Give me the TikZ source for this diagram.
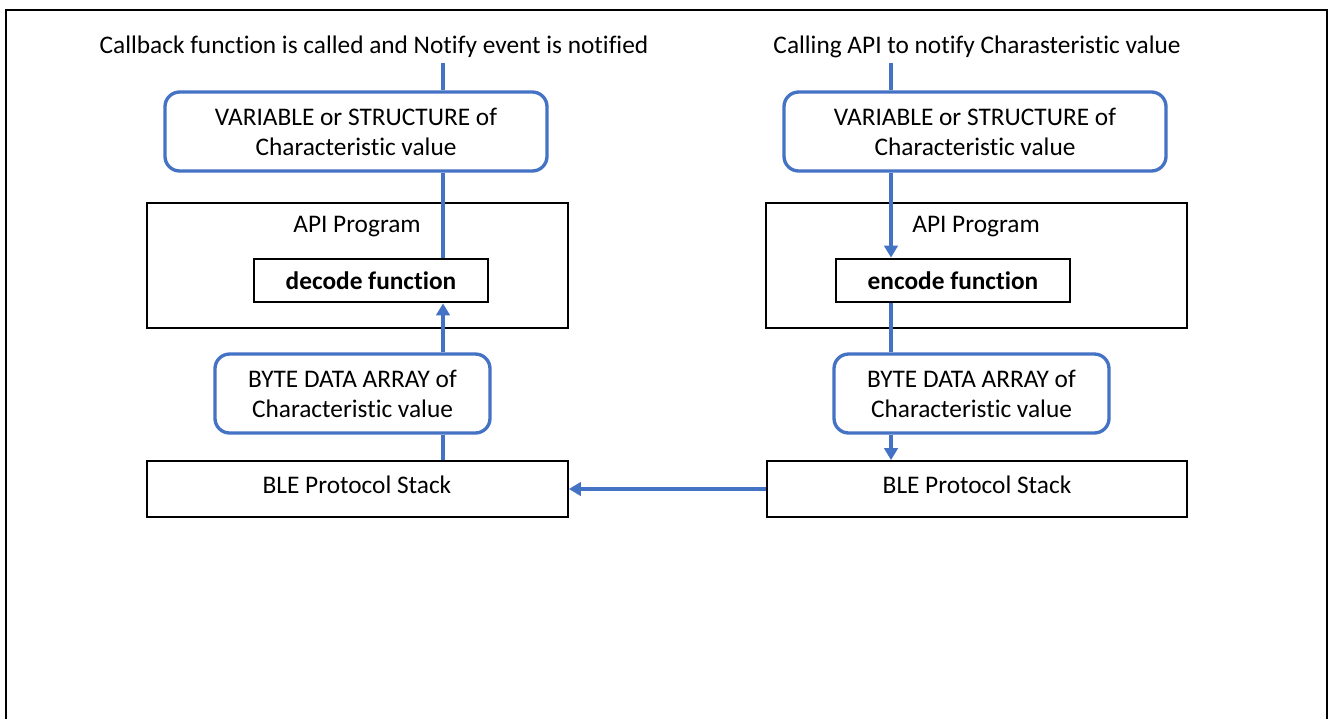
\documentclass[tikz,border=0pt]{standalone}
\usepackage{fontspec}
\setmainfont{Carlito}[Ligatures=NoCommon]
\usetikzlibrary{arrows.meta}
\definecolor{obl}{HTML}{4472C4}
\begin{document}
\begin{tikzpicture}[x=0.75pt,y=-0.75pt,
  every node/.style={font=\fontsize{19}{22.5}\selectfont},
  rbox/.style={draw=obl,line width=2.5pt,rounded corners=11pt,align=center,inner sep=0pt},
  sbox/.style={draw=black,line width=1.3pt,inner sep=0pt},
  fbox/.style={draw=black,line width=2pt,inner sep=0pt,font=\fontsize{19}{22.5}\selectfont\bfseries},
  conn/.style={draw=obl,line width=2.5pt},
  arr/.style={conn,-{Triangle[width=10pt,length=9pt]}}]
\useasboundingbox (0,0) rectangle (1330,719);
\fill[white] (0,0) rectangle (1330,719);
\draw[line width=1.6pt] (6,719) -- (6,10) -- (1327,10) -- (1327,719);
\coordinate (cxL) at (443,0);
\coordinate (cxR) at (891,0);
% left column
\node (topL) at (374,47) {Callback function is called and Notify event is notified};
\node[rbox,minimum width=286.5pt,minimum height=59.25pt] (varL) at (356,131.5) {VARIABLE or STRUCTURE of\\Characteristic value};
\node[sbox,minimum width=315.75pt,minimum height=93.75pt] (apiL) at (357.5,265.5) {};
\node (apiLt) at (357,227) {API Program};
\node[fbox,minimum width=175.5pt,minimum height=32.25pt] (decL) at (371,280.5) {decode function};
\node[rbox,minimum width=206.25pt,minimum height=59.25pt] (byteL) at (352.5,393.5) {BYTE DATA ARRAY of\\Characteristic value};
\node[sbox,minimum width=315.75pt,minimum height=42pt] (bleL) at (357.5,489) {};
\node (bleLt) at (357,485) {BLE Protocol Stack};
% right column
\node (topR) at (977,47) {Calling API to notify Charasteristic value};
\node[rbox,minimum width=286.5pt,minimum height=59.25pt] (varR) at (975,131.5) {VARIABLE or STRUCTURE of\\Characteristic value};
\node[sbox,minimum width=315.75pt,minimum height=93.75pt] (apiR) at (976.5,265.5) {};
\node (apiRt) at (976,227) {API Program};
\node[fbox,minimum width=175.5pt,minimum height=32.25pt] (encR) at (953,280.5) {encode function};
\node[rbox,minimum width=206.25pt,minimum height=59.25pt] (byteR) at (971.5,393.5) {BYTE DATA ARRAY of\\Characteristic value};
\node[sbox,minimum width=315pt,minimum height=42pt] (bleR) at (977,489) {};
\node (bleRt) at (977,485) {BLE Protocol Stack};
% connectors left
\draw[conn] (topL.south -| cxL) -- (varL.north -| cxL);
\draw[conn] (varL.south -| cxL) -- (decL.north -| cxL);
\draw[arr] (byteL.north -| cxL) -- (decL.south -| cxL);
\draw[conn] (byteL.south -| cxL) -- (bleL.north -| cxL);
% connectors right
\draw[conn] (topR.south -| cxR) -- (varR.north -| cxR);
\draw[arr] (varR.south -| cxR) -- (encR.north -| cxR);
\draw[conn] (encR.south -| cxR) -- (byteR.north -| cxR);
\draw[arr] (byteR.south -| cxR) -- (bleR.north -| cxR);
\draw[arr] (bleR.west) -- (bleL.east);
\end{tikzpicture}
\end{document}
